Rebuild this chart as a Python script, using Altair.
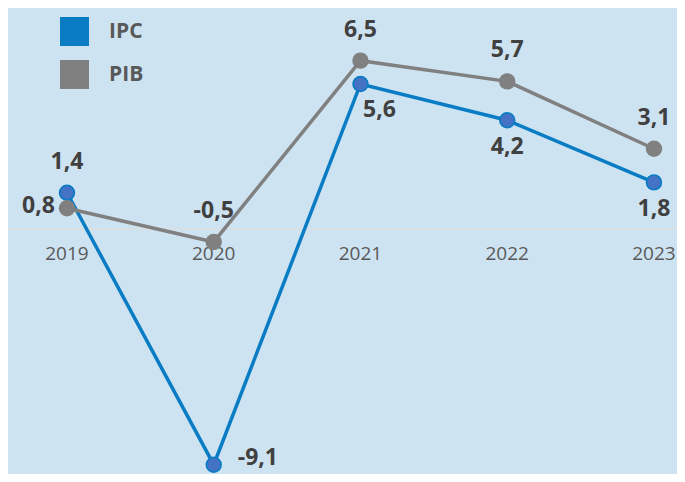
import altair as alt
import pandas as pd

years = [2019, 2020, 2021, 2022, 2023]
ipc = [1.4, -9.1, 5.6, 4.2, 1.8]
pib = [0.8, -0.5, 6.5, 5.7, 3.1]
series_names = ["IPC", "PIB"]
line_colors = ["#0a7cc4", "#808080"]
ipc_marker_fill = "#4472c4"
# where each value label sits relative to its point
ipc_side = ["above", "right", "belowright", "below", "below"]
pib_side = ["left", "above", "above", "above", "above"]

rows = []
for s, vals, sides in [("IPC", ipc, ipc_side), ("PIB", pib, pib_side)]:
    for yr, v, side in zip(years, vals, sides):
        rows.append({"serie": s, "year": yr, "value": v,
                     "label": f"{v:.1f}".replace(".", ","), "side": side})
df = pd.DataFrame(rows)
axis_df = pd.DataFrame({"year": years, "year_label": [str(y) for y in years], "zero": [0] * len(years)})

FONT = "Open Sans"
BG = "#cee3f1"
W, H = 669, 466
XDOM = [2018.598, 2023.157]
YDOM = [-9.459, 8.533]

xs = alt.X("year:Q", scale=alt.Scale(domain=XDOM, nice=False, zero=False), axis=None)
ys = alt.Y("value:Q", scale=alt.Scale(domain=YDOM, nice=False, zero=False), axis=None)

rule = alt.Chart(pd.DataFrame({"value": [0]})).mark_rule(color="#e2ddd6", strokeWidth=1.2).encode(y=ys)

year_text = alt.Chart(axis_df).mark_text(
    dy=25, font=FONT, fontSize=19, color="#595959", baseline="middle"
).encode(
    x=xs,
    y=alt.Y("zero:Q", scale=alt.Scale(domain=YDOM, nice=False, zero=False), axis=None),
    text="year_label:N",
)

line_layers = []
for name, col in zip(series_names, line_colors):
    line_layers.append(
        alt.Chart(df).transform_filter(alt.datum.serie == name)
        .mark_line(strokeWidth=3.5, color=col)
        .encode(x=xs, y=ys)
    )

points = alt.Chart(df).mark_circle(size=270, opacity=1).encode(
    x=xs, y=ys,
    color=alt.Color("serie:N", scale=alt.Scale(domain=series_names, range=line_colors),
                    legend=alt.Legend(
                        title=None, orient="none", legendX=52, legendY=9,
                        symbolType="square", symbolSize=841, symbolStrokeWidth=0, symbolOpacity=1,
                        labelFont=FONT, labelFontSize=21, labelFontWeight="bold", labelColor="#595959",
                        labelOffset=20, rowPadding=14, padding=0)),
)

inner = alt.Chart(df).transform_filter(alt.datum.serie == "IPC").mark_circle(
    size=170, opacity=1, color=ipc_marker_fill
).encode(x=xs, y=ys)

offsets = {
    "above": dict(dx=0, dy=-31, align="center"),
    "below": dict(dx=0, dy=27, align="center"),
    "belowright": dict(dx=19, dy=26, align="center"),
    "left": dict(dx=-12, dy=-2, align="right"),
    "right": dict(dx=24, dy=-7, align="left"),
}
label_layers = []
for side, o in offsets.items():
    label_layers.append(
        alt.Chart(df).transform_filter(alt.datum.side == side).mark_text(
            font=FONT, fontSize=23, fontWeight="bold", color="#404040", baseline="middle", **o
        ).encode(x=xs, y=ys, text="label:N")
    )

chart = alt.layer(rule, year_text, *line_layers, points, inner, *label_layers).properties(
    width=W, height=H, background=BG, padding=0,
    autosize=alt.AutoSizeParams(type="none"),
).configure_view(stroke=None)

chart.save("out.html", embed_options={"renderer": "svg", "actions": False})
